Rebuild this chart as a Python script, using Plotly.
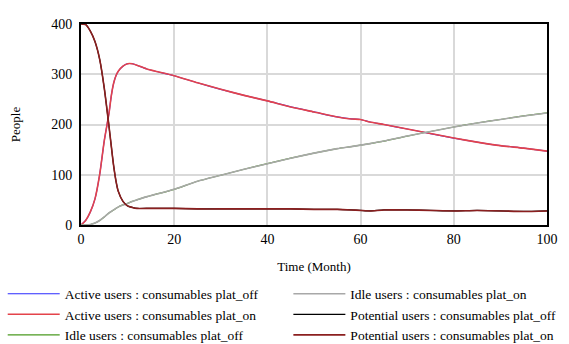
import plotly.graph_objects as go

time = [0, 1, 2, 3, 4, 5, 6, 6.5, 7, 7.5, 8, 9, 10, 11, 12, 14, 16, 20, 25, 30,
        35, 40, 45, 50, 55, 58, 60, 62, 65, 70, 75, 80, 85, 90, 95, 100]

active_on = [0, 9, 26, 52, 100, 168, 222, 257, 282, 297, 306, 316, 321, 321, 318,
             311, 306, 297, 283, 270, 258, 247, 235, 225, 215, 211, 210, 205, 200,
             191, 182, 173, 165, 158, 153, 147]
idle_on = [0, 0, 1, 4, 9, 16, 24, 27, 30, 33, 36, 40, 43, 47, 50, 56, 61, 71, 87,
           99, 111, 122, 133, 143, 152, 156, 159, 162, 167, 177, 186, 195, 203, 210,
           217, 223]
potential_on = [400, 399, 386, 365, 330, 272, 197, 157, 118, 88, 67, 47, 38, 35, 33,
                33, 33, 33, 32, 32, 32, 32, 32, 31, 31, 30, 29, 28, 30, 30, 29, 28,
                29, 28, 27, 28]
# plat_off runs coincide with plat_on (hidden underneath in the reference)
active_off = list(active_on)
idle_off = list(idle_on)
potential_off = list(potential_on)

x_ticks = [0, 20, 40, 60, 80, 100]
y_ticks = [0, 100, 200, 300, 400]

series = [
    ("Active users : consumables plat_off", active_off, "#2b2bff", "legend", 1.2),
    ("Active users : consumables plat_on", active_on, "#e4434a", "legend", 1.6),
    ("Idle users : consumables plat_off", idle_off, "#4a9a20", "legend", 1.2),
    ("Idle users : consumables plat_on", idle_on, "#a8a8a8", "legend2", 1.6),
    ("Potential users : consumables plat_off", potential_off, "#000000", "legend2", 1.2),
    ("Potential users : consumables plat_on", potential_on, "#8b1f1f", "legend2", 1.6),
]

fig = go.Figure()
for name, vals, color, lg, w in series:
    fig.add_trace(go.Scatter(
        x=time, y=vals, name=name, mode="lines",
        line=dict(color=color, width=w, shape="spline", smoothing=0.6),
        legend=lg,
    ))

font_family = '"Liberation Serif", "Times New Roman", serif'
legend_common = dict(
    orientation="v", yanchor="top", xanchor="left",
    font=dict(family=font_family, size=13.5, color="#000"),
    bgcolor="rgba(0,0,0,0)", itemwidth=52, tracegroupgap=0,
)
fig.update_layout(
    width=569, height=344,
    margin=dict(l=81, r=22, t=24, b=119, autoexpand=False),
    paper_bgcolor="white", plot_bgcolor="white",
    font=dict(family=font_family, size=14, color="#000"),
    showlegend=True,
    legend=dict(x=-0.168, y=-0.266, **legend_common),
    legend2=dict(x=0.445, y=-0.266, **legend_common),
    xaxis=dict(
        range=[0, 100], tickvals=x_ticks, showgrid=True, gridcolor="#d9d9d9",
        gridwidth=1.5, showline=True, linecolor="black", linewidth=2, mirror=True,
        zeroline=False, ticks="", tickfont=dict(size=14), automargin=False,
        title=dict(text="Time (Month)", font=dict(size=13), standoff=16),
    ),
    yaxis=dict(
        range=[0, 400], tickvals=y_ticks, showgrid=True, gridcolor="#d9d9d9",
        gridwidth=1.5, showline=True, linecolor="black", linewidth=2, mirror=True,
        zeroline=False, ticks="", tickfont=dict(size=14), ticklabelstandoff=4,
        automargin=False,
        title=dict(text="People", font=dict(size=13), standoff=28),
    ),
)

fig.write_html("out.html", config={"displayModeBar": False},
               post_script="document.body.style.margin='0';")
